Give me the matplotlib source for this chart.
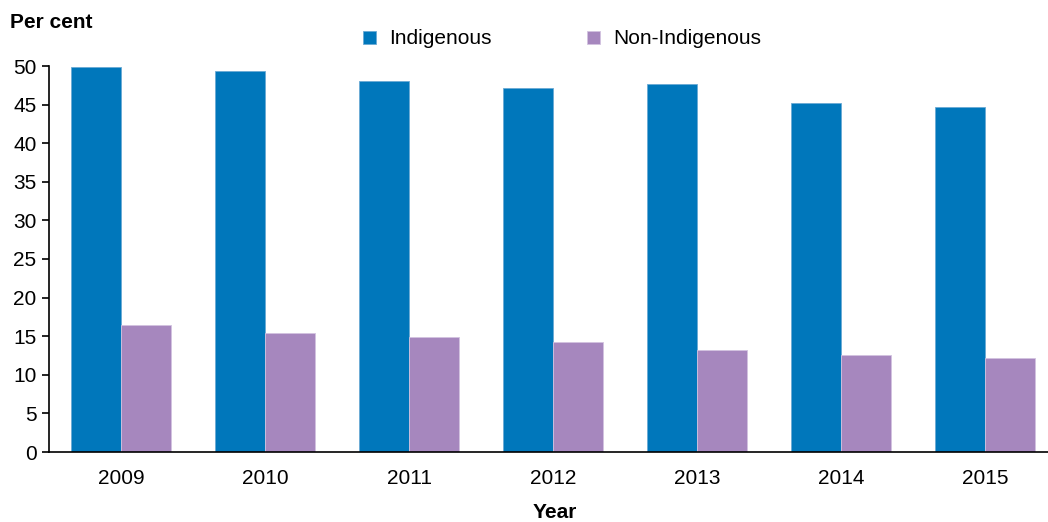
import numpy as np
import matplotlib
matplotlib.use("Agg")
import matplotlib.pyplot as plt

plt.rcParams['font.family'] = ['Liberation Sans', 'DejaVu Sans']

# values
years = ['2009', '2010', '2011', '2012', '2013', '2014', '2015']
indigenous = [49.9, 49.4, 48.1, 47.1, 47.7, 45.2, 44.7]
non_indigenous = [16.4, 15.4, 14.9, 14.2, 13.2, 12.6, 12.2]

blue = '#0077bb'
purple = '#a687be'

W, H = 1048, 522
fig = plt.figure(figsize=(W / 100, H / 100), dpi=100)
ax = fig.add_axes([49 / W, (H - 452) / H, (W - 49) / W, (452 - 66) / H])

x = np.arange(len(years))
width = 50 / 144
ax.bar(x - width / 2, indigenous, width, color=blue, label='Indigenous',
       edgecolor='#6aaad4', linewidth=0.6)
ax.bar(x + width / 2, non_indigenous, width, color=purple, label='Non-Indigenous',
       edgecolor='#d2c3e0', linewidth=0.6)

ax.set_xlim(-0.5, (W - 49) / 144 - 0.5)
ax.set_ylim(0, 50)
ax.set_yticks(np.arange(0, 51, 5))
ax.set_xticks(x)
ax.set_xticklabels(years)

for side in ['top', 'right']:
    ax.spines[side].set_visible(False)
ax.spines['left'].set_linewidth(1.2)
ax.spines['bottom'].set_linewidth(1.2)
ax.tick_params(axis='y', labelsize=15, length=5, width=1.2, direction='out', pad=4)
ax.tick_params(axis='x', labelsize=15, length=0, pad=12)

fig.text(10 / W, 1 - 22 / H, 'Per cent', fontsize=15, fontweight='bold',
         ha='left', va='center')
fig.text(555 / W, 1 - 512 / H, 'Year', fontsize=15, fontweight='bold',
         ha='center', va='center')

fig.legend(loc='center left', bbox_to_anchor=(363 / W, 1 - 39 / H), ncol=2,
           frameon=False, fontsize=15, handlelength=0.6, handleheight=0.6,
           handletextpad=0.65, columnspacing=4.6, borderpad=0, borderaxespad=0)

fig.savefig('out.png', dpi=100)
